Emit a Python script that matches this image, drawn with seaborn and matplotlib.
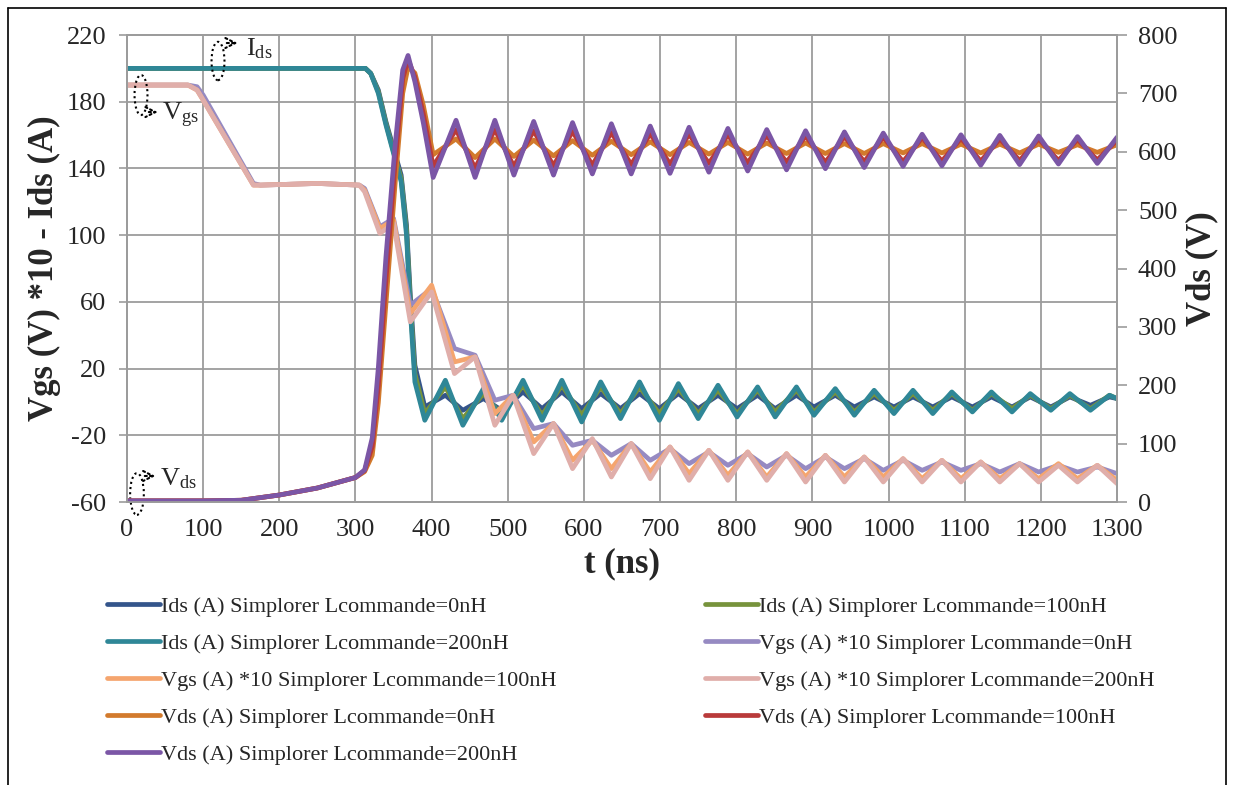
import matplotlib
matplotlib.use("Agg")
import matplotlib.pyplot as plt
import seaborn as sns
from matplotlib.patches import Ellipse
from matplotlib.lines import Line2D

# ---- données ----
t_ids = [0, 100, 200, 300, 313, 320, 330, 340, 350, 360,
         367, 372, 378, 391, 418, 441, 468, 492, 520, 545,
         571, 597, 622, 648, 673, 699, 724, 750, 776, 801,
         828, 851, 879, 902, 930, 955, 981, 1007, 1032, 1058,
         1083, 1110, 1135, 1162, 1186, 1213, 1238, 1265, 1290, 1300]
ids_0nh = [200, 200, 200, 200, 200, 197, 187, 168, 152, 136,
           106, 64, 22, -3, 4, -5, 2, -5, 6, -4,
           6, -4, 5, -4, 5, -4, 5, -4, 4, -4,
           4, -4, 4, -3, 4, -3, 3, -3, 3, -3,
           3, -3, 3, -3, 3, -3, 3, -2, 3, 2]
ids_100nh = [200, 200, 200, 200, 200, 197, 186, 167, 150, 134,
             103, 59, 17, -7, 9, -10, 5, -8, 10, -8,
             10, -8, 9, -7, 9, -7, 8, -7, 7, -7,
             7, -6, 7, -6, 6, -6, 5, -5, 5, -5,
             5, -5, 5, -4, 4, -4, 4, -4, 4, 2]
ids_200nh = [200, 200, 200, 200, 200, 197, 185, 166, 149, 132,
             100, 55, 12, -11, 13, -14, 8, -11, 13, -11,
             13, -12, 12, -10, 12, -11, 11, -10, 10, -9,
             9, -9, 9, -8, 8, -8, 7, -7, 7, -7,
             6, -6, 6, -6, 5, -5, 5, -5, 4, 2]

t_vgs = [0, 80, 92, 100, 166, 175, 250, 305, 312, 332,
         350, 372, 400, 430, 457, 483, 507, 534, 560, 585,
         611, 636, 662, 687, 713, 738, 764, 789, 815, 840,
         866, 891, 917, 942, 968, 993, 1019, 1044, 1070, 1095,
         1121, 1146, 1172, 1197, 1223, 1248, 1274, 1300]
vgs_0nh = [190, 190, 189, 184, 131, 130, 131, 130, 128, 105,
           110, 58, 68, 32, 28, 1, 4, -16, -13, -26,
           -23, -32, -25, -35, -28, -37, -30, -38, -31, -39,
           -32, -40, -33, -40, -34, -41, -35, -41, -36, -41,
           -37, -42, -37, -42, -38, -42, -39, -43]
vgs_100nh = [190, 190, 187, 181, 130, 130, 131, 130, 127, 104,
             109, 53, 70, 24, 27, -7, 4, -24, -13, -35,
             -23, -40, -25, -42, -27, -43, -29, -44, -30, -45,
             -31, -45, -32, -45, -33, -45, -34, -46, -35, -46,
             -36, -46, -37, -46, -37, -46, -38, -47]
vgs_200nh = [190, 190, 187, 181, 130, 130, 131, 130, 126, 101,
             107, 48, 66, 17, 27, -14, 4, -31, -13, -40,
             -22, -45, -25, -46, -27, -47, -29, -47, -30, -47,
             -31, -48, -32, -48, -33, -48, -34, -48, -35, -48,
             -36, -48, -37, -48, -38, -48, -38, -49]

t_vds = [0, 100, 150, 200, 250, 300, 312, 322, 330, 340,
         352, 362, 369, 378, 389, 402, 432, 457, 483, 508,
         534, 560, 585, 611, 636, 662, 687, 713, 738, 764,
         789, 815, 840, 866, 891, 917, 942, 968, 993, 1019,
         1044, 1070, 1095, 1121, 1146, 1172, 1197, 1223, 1248, 1274,
         1300]
vds_0nh = [2, 2, 3, 12, 24, 42, 52, 80, 170, 340,
           545, 700, 745, 735, 680, 595, 622, 590, 622, 592,
           620, 593, 619, 594, 618, 595, 617, 595, 616, 596,
           616, 596, 615, 597, 615, 597, 614, 597, 614, 598,
           614, 598, 613, 598, 613, 598, 613, 599, 612, 599,
           612]
vds_100nh = [2, 2, 3, 12, 24, 42, 54, 95, 200, 380,
             580, 725, 758, 728, 665, 575, 638, 572, 638, 575,
             636, 576, 635, 577, 633, 578, 631, 579, 630, 580,
             629, 581, 628, 582, 627, 582, 626, 583, 625, 583,
             624, 584, 623, 584, 622, 585, 622, 585, 621, 586,
             620]
vds_200nh = [2, 2, 3, 12, 24, 42, 55, 110, 230, 420,
             610, 740, 765, 720, 650, 556, 654, 556, 654, 560,
             652, 560, 650, 562, 648, 562, 644, 563, 642, 565,
             640, 567, 638, 569, 636, 571, 634, 573, 632, 575,
             630, 576, 629, 577, 628, 578, 627, 579, 626, 580,
             625]

x_ticks = [0, 100, 200, 300, 400, 500, 600, 700, 800, 900, 1000, 1100, 1200, 1300]
left_ticks = [-60, -20, 20, 60, 100, 140, 180, 220]
right_ticks = [0, 100, 200, 300, 400, 500, 600, 700, 800]

series_left = [
    (t_ids, ids_0nh, "#34558B", "Ids (A) Simplorer Lcommande=0nH"),
    (t_ids, ids_100nh, "#77933C", "Ids (A) Simplorer Lcommande=100nH"),
    (t_ids, ids_200nh, "#2F8797", "Ids (A) Simplorer Lcommande=200nH"),
    (t_vgs, vgs_0nh, "#968AC2", "Vgs (A) *10 Simplorer Lcommande=0nH"),
    (t_vgs, vgs_100nh, "#F5A56E", "Vgs (A) *10 Simplorer Lcommande=100nH"),
    (t_vgs, vgs_200nh, "#E0AEAA", "Vgs (A) *10 Simplorer Lcommande=200nH"),
]
series_right = [
    (t_vds, vds_0nh, "#D27A2C", "Vds (A) Simplorer Lcommande=0nH"),
    (t_vds, vds_100nh, "#B93A3A", "Vds (A) Simplorer Lcommande=100nH"),
    (t_vds, vds_200nh, "#7B56A6", "Vds (A) Simplorer Lcommande=200nH"),
]

sns.set_style("white")
plt.rcParams["font.family"] = ["Liberation Serif", "DejaVu Serif"]
plt.rcParams["mathtext.fontset"] = "custom"
plt.rcParams["mathtext.rm"] = "Liberation Serif"
plt.rcParams["axes.unicode_minus"] = False

fig = plt.figure(figsize=(12.33, 7.85), dpi=100)
ax = fig.add_axes([0.103, 0.3605, 0.803, 0.5949])
ax2 = ax.twinx()

grid_c = "#9C9C9C"
lw = 3.4
handles = []
for t, y, c, lab in series_left:
    sns.lineplot(x=t, y=y, ax=ax, color=c, lw=lw, legend=False)
    handles.append((ax.lines[-1], lab))
for t, y, c, lab in series_right:
    sns.lineplot(x=t, y=y, ax=ax2, color=c, lw=lw, legend=False)
    handles.append((ax2.lines[-1], lab))

ax.set_xlim(0, 1300)
ax.set_ylim(-60, 220)
ax2.set_ylim(0, 800)
ax.set_xticks(x_ticks)
ax.set_xticks([50 + v for v in x_ticks[:-1]], minor=True)
ax.set_yticks(left_ticks)
ax2.set_yticks(right_ticks)
ax.grid(True, which="major", color=grid_c, lw=1.3)
ax.set_axisbelow(True)

for a in (ax, ax2):
    for s in a.spines.values():
        s.set_color(grid_c)
        s.set_linewidth(1.3)
ax.tick_params(axis="x", which="both", direction="out", length=7, width=1.2,
               color=grid_c, labelsize=19, pad=5)
ax.tick_params(axis="y", direction="out", length=6, width=1.2, color=grid_c,
               labelsize=19, pad=9)
ax2.tick_params(axis="y", direction="out", length=7, width=1.2, color=grid_c,
                labelsize=19, pad=8)

ax.set_xlabel("t (ns)", fontsize=25, fontweight="bold", labelpad=5)
ax.set_ylabel("Vgs (V) *10 - Ids (A)", fontsize=25, fontweight="bold", labelpad=4)
ax2.set_ylabel("Vds (V)", fontsize=25, fontweight="bold", labelpad=6)

# annotations (ellipses pointillées + flèches)
notes = [
    ((119.5, 204.4), 17, 23, (127.4, 215.2), (149, 215.2), (156, 212.0), r"$\mathrm{I_{ds}}$"),
    ((18.4, 184.0), 17, 24, (25, 173.8), (44, 173.8), (46, 172.0), r"$\mathrm{V_{gs}}$"),
    ((13.1, -55.2), 18, 25, (19.7, -44.4), (41, -44.4), (43, -46.0), r"$\mathrm{V_{ds}}$"),
]
for cen, w, h, a0, a1, tp, txt in notes:
    ax.add_patch(Ellipse(cen, w, h, fill=False, ls=(0, (1, 1.5)), lw=1.5,
                         color="black", clip_on=False, zorder=5))
    ax.annotate("", xy=a1, xytext=a0,
                arrowprops=dict(arrowstyle="->", ls=(0, (1, 1.5)), lw=1.5,
                                color="black", mutation_scale=18),
                annotation_clip=False, zorder=5)
    ax.text(tp[0], tp[1], txt, fontsize=19, va="center", ha="left", zorder=5)

# légende sur deux colonnes
order_left = [0, 2, 4, 6, 8]
order_right = [1, 3, 5, 7]
leg_kw = dict(frameon=False, fontsize=16, handlelength=2.4, handletextpad=0.05,
              labelspacing=0.74, borderpad=0, borderaxespad=0, loc="upper left")
fig.legend([handles[i][0] for i in order_left], [handles[i][1] for i in order_left],
           bbox_to_anchor=(107 / 1233, 1 - 596 / 785), **leg_kw)
fig.legend([handles[i][0] for i in order_right], [handles[i][1] for i in order_right],
           bbox_to_anchor=(705 / 1233, 1 - 596 / 785), **leg_kw)

# cadre extérieur
for xs, ys in [((8 / 1233, 8 / 1233), (0, 1 - 8 / 785)),
               ((8 / 1233, 1226 / 1233), (1 - 8 / 785, 1 - 8 / 785)),
               ((1226 / 1233, 1226 / 1233), (0, 1 - 8 / 785))]:
    fig.add_artist(Line2D(xs, ys, color="black", lw=1.2))

fig.savefig("out.png", dpi=100)
